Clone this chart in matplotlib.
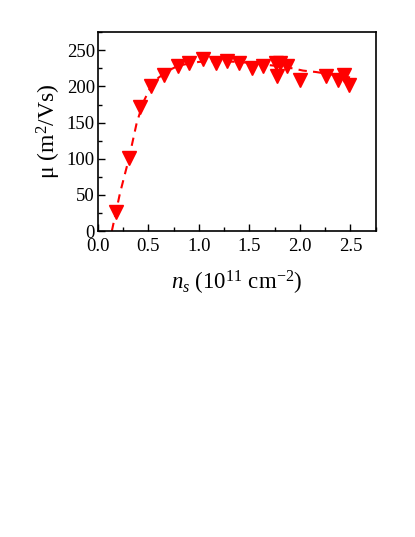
import numpy as np
import matplotlib
matplotlib.use("Agg")
import matplotlib.pyplot as plt
from matplotlib.ticker import MultipleLocator

plt.rcParams['font.family'] = ['Liberation Serif', 'DejaVu Serif']
plt.rcParams['mathtext.fontset'] = 'custom'
plt.rcParams['mathtext.rm'] = 'Liberation Serif'
plt.rcParams['mathtext.it'] = 'Liberation Serif:italic'

# measured points (n_s in 1e11 cm^-2, mobility in m^2/Vs)
ns = [0.18, 0.31, 0.42, 0.53, 0.66, 0.79, 0.90, 1.04, 1.17, 1.28, 1.40,
      1.53, 1.64, 1.76, 1.77, 1.80, 1.87, 2.00, 2.26, 2.375, 2.44, 2.49]
mu = [26, 101, 171, 201, 216, 229, 232, 238, 232, 235, 233,
      226, 228, 232, 215, 233, 229, 209, 215, 209, 216, 202]

# dashed guide curve
fit_ns = [0.14, 0.18, 0.22, 0.31, 0.385, 0.45, 0.53, 0.60, 0.70, 0.80,
          1.00, 1.20, 1.40, 1.60, 1.80, 1.93, 2.03, 2.16, 2.52]
fit_mu = [0, 26, 52, 101, 149, 178, 201, 212, 222, 229,
          234, 235, 234, 231, 228, 225, 222, 220, 212]

fig = plt.figure(figsize=(4.15, 5.37), dpi=100)
ax = fig.add_axes([0.2354, 0.5698, 0.6699, 0.3701])

ax.plot(fit_ns, fit_mu, color='red', lw=1.5, dashes=(4, 3), zorder=2)
ax.plot(ns, mu, linestyle='none', marker='v', ms=10.5, color='red', zorder=3)

ax.set_xlim(0, 2.75)
ax.set_ylim(0, 275)
ax.xaxis.set_major_locator(MultipleLocator(0.5))
ax.xaxis.set_minor_locator(MultipleLocator(0.25))
ax.yaxis.set_major_locator(MultipleLocator(50))
ax.yaxis.set_minor_locator(MultipleLocator(25))
ax.tick_params(which='both', direction='in', top=False, right=False, labelsize=13.5, width=1)
ax.tick_params(which='major', length=5)
ax.tick_params(which='minor', length=3)
ax.tick_params(axis='y', which='major', pad=2)
ax.tick_params(axis='x', which='major', pad=5)
ax.xaxis.set_major_formatter(matplotlib.ticker.FormatStrFormatter('%.1f'))
for s in ax.spines.values():
    s.set_linewidth(1.2)

ax.set_xlabel(r'$n_s$ (10$^{11}$ cm$^{-2}$)', fontsize=16.5, labelpad=10)
ax.set_ylabel(r'μ (m$^2$/Vs)', fontsize=17, labelpad=3)

fig.savefig('out.png', dpi=100)
